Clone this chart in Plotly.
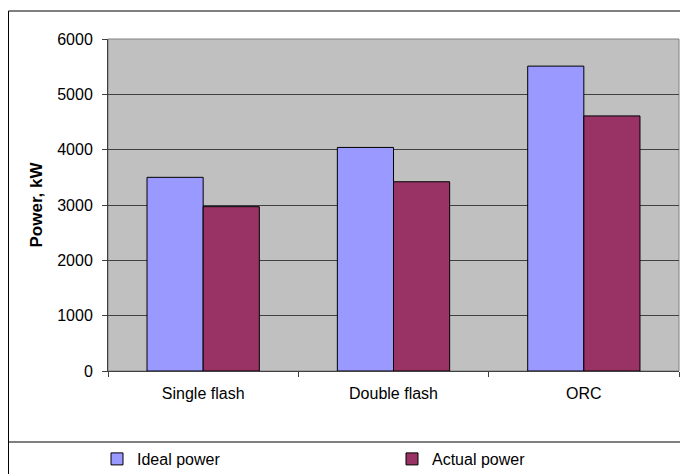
import plotly.graph_objects as go

categories = ["Single flash", "Double flash", "ORC"]
ideal_power = [3500, 4040, 5510]
actual_power = [2970, 3420, 4610]
y_ticks = [0, 1000, 2000, 3000, 4000, 5000, 6000]

# page body adds an 8px margin, so the figure is 8px smaller than the window
W, H = 680, 466
L, R, T, B = 100, 9, 31, 103
pw, ph = W - L - R, H - T - B

def px(x):
    return (x - L) / pw

def py(y):
    return (H - B - y) / ph

fig = go.Figure()
fig.add_trace(go.Bar(name="Ideal power", x=categories, y=ideal_power,
                     marker=dict(color="#9999FF", line=dict(color="#000000", width=1))))
fig.add_trace(go.Bar(name="Actual power", x=categories, y=actual_power,
                     marker=dict(color="#993366", line=dict(color="#000000", width=1))))

font = "Liberation Sans, Arial, sans-serif"
fig.update_layout(
    width=W, height=H,
    margin=dict(l=L, r=R, t=T, b=B, autoexpand=False),
    paper_bgcolor="white",
    plot_bgcolor="#C0C0C0",
    barmode="group",
    bargap=0.41,
    bargroupgap=0,
    font=dict(family=font, size=16, color="#000000"),
    xaxis=dict(
        showgrid=False, showline=True, linecolor="#404040", linewidth=1,
        ticks="outside", tickson="boundaries", ticklen=5, tickcolor="#404040",
        tickfont=dict(size=16), ticklabelstandoff=8,
    ),
    yaxis=dict(
        range=[0, 6000], tickvals=y_ticks, showgrid=True, gridcolor="#404040",
        gridwidth=1, showline=True, linecolor="#404040", linewidth=1,
        ticks="outside", ticklen=5, tickcolor="#404040", zeroline=False,
        tickfont=dict(size=16), ticklabelstandoff=6,
        title=dict(text="<b>Power, kW</b>", font=dict(size=17), standoff=10),
    ),
    legend=dict(
        orientation="h", x=px(89), y=py(451), xanchor="left", yanchor="middle",
        entrywidth=250, entrywidthmode="pixels", itemwidth=30,
        font=dict(size=16), bgcolor="rgba(0,0,0,0)",
    ),
    shapes=[
        dict(type="line", xref="paper", yref="paper",
             x0=px(0.5), x1=px(W + 5), y0=py(3), y1=py(3),
             line=dict(color="#000000", width=1)),
        dict(type="line", xref="paper", yref="paper",
             x0=px(0.5), x1=px(0.5), y0=py(3), y1=py(H + 5),
             line=dict(color="#000000", width=1)),
        dict(type="line", xref="paper", yref="paper",
             x0=px(0.5), x1=px(W + 5), y0=py(434), y1=py(434),
             line=dict(color="#000000", width=1)),
        dict(type="rect", xref="paper", yref="paper",
             x0=0, x1=1, y0=0, y1=1,
             line=dict(color="#808080", width=1), fillcolor="rgba(0,0,0,0)", layer="below"),
    ],
)

fig.write_html("out.html")
